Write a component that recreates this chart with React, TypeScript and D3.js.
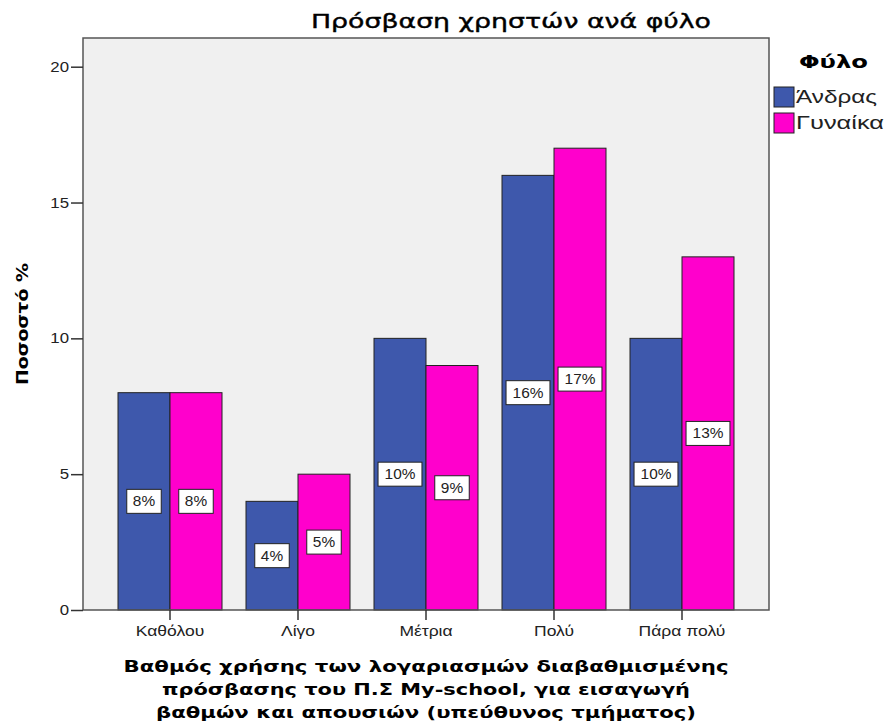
import React, { useEffect, useRef } from "react";
import * as d3 from "d3";

const categories = ["Καθόλου", "Λίγο", "Μέτρια", "Πολύ", "Πάρα πολύ"];
const sexes = ["Άνδρας", "Γυναίκα"];
const men = [8, 4, 10, 16, 10];
const women = [8, 5, 9, 17, 13];
const yTicks = [0, 5, 10, 15, 20];
const colors = ["#3E58AC", "#FF00CC"];
const xTitle = [
  "Βαθμός χρήσης των λογαριασμών διαβαθμισμένης",
  "πρόσβασης του Π.Σ My-school, για εισαγωγή",
  "βαθμών και απουσιών (υπεύθυνος τμήματος)",
];

// widen text like the original renderer does
function stretch(sel: any, factor: number) {
  sel.each(function (this: SVGTextElement) {
    const w = this.getComputedTextLength();
    d3.select(this).attr("textLength", w * factor).attr("lengthAdjust", "spacingAndGlyphs");
  });
}

export default function App() {
  const ref = useRef<SVGSVGElement>(null);

  useEffect(() => {
    const width = 887;
    const height = 724;
    const plot = { left: 83, top: 38, right: 769, bottom: 610 };
    const font = "'Liberation Sans', Arial, sans-serif";
    const wide = "'DejaVu Sans', Verdana, sans-serif";

    const svg = d3.select(ref.current).attr("width", width).attr("height", height);
    svg.selectAll("*").remove();
    svg.append("rect").attr("width", width).attr("height", height).attr("fill", "#fff");

    const xScale = d3.scaleBand().domain(categories).range([plot.left + 23, plot.right - 23]);
    const xSub = d3.scaleBand().domain(sexes).range([12, xScale.bandwidth() - 12]);
    const yScale = d3.scaleLinear().domain([0, 20]).range([plot.bottom, 66.7]);

    // plot background
    svg.append("rect")
      .attr("x", plot.left).attr("y", plot.top)
      .attr("width", plot.right - plot.left).attr("height", plot.bottom - plot.top)
      .attr("fill", "#F0F0F0");

    const rows = categories.map((c, i) => ({ c, vals: [men[i], women[i]] }));

    const groups = svg.selectAll("g.grp").data(rows).enter()
      .append("g").attr("class", "grp")
      .attr("transform", d => `translate(${xScale(d.c)},0)`);

    groups.selectAll("rect").data(d => d.vals.map((v, j) => ({ v, s: sexes[j], j }))).enter()
      .append("rect")
      .attr("x", d => xSub(d.s)!)
      .attr("y", d => yScale(d.v))
      .attr("width", xSub.bandwidth())
      .attr("height", d => yScale(0) - yScale(d.v))
      .attr("fill", d => colors[d.j])
      .attr("stroke", "#222")
      .attr("stroke-width", 1);

    // value labels
    groups.each(function (d) {
      const g = d3.select(this);
      d.vals.forEach((v, j) => {
        const cx = xSub(sexes[j])! + xSub.bandwidth() / 2;
        const cy = yScale(v / 2);
        const lbl = g.append("g");
        const t = lbl.append("text")
          .attr("x", cx).attr("y", cy)
          .attr("text-anchor", "middle").attr("dominant-baseline", "central")
          .style("font-family", font).style("font-size", "14px").attr("fill", "#222")
          .text(`${v}%`);
        stretch(t, 1.1);
        const w = (t.node() as SVGTextElement).getComputedTextLength() * 1.1;
        lbl.insert("rect", "text")
          .attr("x", cx - w / 2 - 5).attr("y", cy - 12)
          .attr("width", w + 10).attr("height", 24)
          .attr("fill", "#fff").attr("stroke", "#222").attr("stroke-width", 1);
      });
    });

    // frame
    svg.append("rect")
      .attr("x", plot.left).attr("y", plot.top)
      .attr("width", plot.right - plot.left).attr("height", plot.bottom - plot.top)
      .attr("fill", "none").attr("stroke", "#555").attr("stroke-width", 1.5);

    // y axis
    const yAxis = svg.append("g").attr("transform", `translate(${plot.left},0)`)
      .call(d3.axisLeft(yScale).tickValues(yTicks).tickSize(12).tickPadding(2).tickFormat(d3.format("d")));
    yAxis.select(".domain").remove();
    yAxis.selectAll("line").attr("stroke", "#333").attr("stroke-width", 1.5);
    yAxis.selectAll("text").style("font-family", font).style("font-size", "14px").attr("fill", "#222");
    stretch(yAxis.selectAll("text"), 1.2);

    // x axis
    const xAxis = svg.append("g").attr("transform", `translate(0,${plot.bottom})`)
      .call(d3.axisBottom(xScale).tickSize(10).tickPadding(6));
    xAxis.select(".domain").remove();
    xAxis.selectAll("line").attr("stroke", "#333").attr("stroke-width", 1.5);
    xAxis.selectAll("text").style("font-family", font).style("font-size", "14px").attr("fill", "#222");
    stretch(xAxis.selectAll("text"), 1.25);

    // title
    svg.append("text")
      .attr("x", 511).attr("y", 28)
      .attr("text-anchor", "middle")
      .attr("textLength", 400).attr("lengthAdjust", "spacingAndGlyphs")
      .style("font-family", wide).style("font-size", "20px").style("font-weight", "500")
      .attr("stroke", "#000").attr("stroke-width", 0.4)
      .text("Πρόσβαση χρηστών ανά φύλο");

    // x title
    const xWidths = [605, 528, 540];
    xTitle.forEach((line, i) => {
      svg.append("text")
        .attr("x", 426).attr("y", 672 + i * 23)
        .attr("text-anchor", "middle")
        .attr("textLength", xWidths[i]).attr("lengthAdjust", "spacingAndGlyphs")
        .style("font-family", wide).style("font-size", "16px").style("font-weight", "bold")
        .text(line);
    });

    // y title
    svg.append("text")
      .attr("transform", `translate(28,324) rotate(-90)`)
      .attr("text-anchor", "middle")
      .attr("textLength", 122).attr("lengthAdjust", "spacingAndGlyphs")
      .style("font-family", wide).style("font-size", "16px").style("font-weight", "bold")
      .text("Ποσοστό %");

    // legend
    svg.append("text")
      .attr("x", 799).attr("y", 68)
      .attr("textLength", 69).attr("lengthAdjust", "spacingAndGlyphs")
      .style("font-family", wide).style("font-size", "17px").style("font-weight", "bold")
      .text("Φύλο");
    const legendWidths = [81, 88];
    sexes.forEach((s, i) => {
      svg.append("rect")
        .attr("x", 774).attr("y", 87 + i * 26)
        .attr("width", 20).attr("height", 20)
        .attr("fill", colors[i]).attr("stroke", "#222").attr("stroke-width", 1);
      svg.append("text")
        .attr("x", 796).attr("y", 97 + i * 26)
        .attr("dominant-baseline", "central")
        .attr("textLength", legendWidths[i]).attr("lengthAdjust", "spacingAndGlyphs")
        .style("font-family", font).style("font-size", "18px").attr("fill", "#222")
        .text(s);
    });
  }, []);

  return <svg ref={ref} style={{ position: "absolute", left: 0, top: 0 }}></svg>;
}
